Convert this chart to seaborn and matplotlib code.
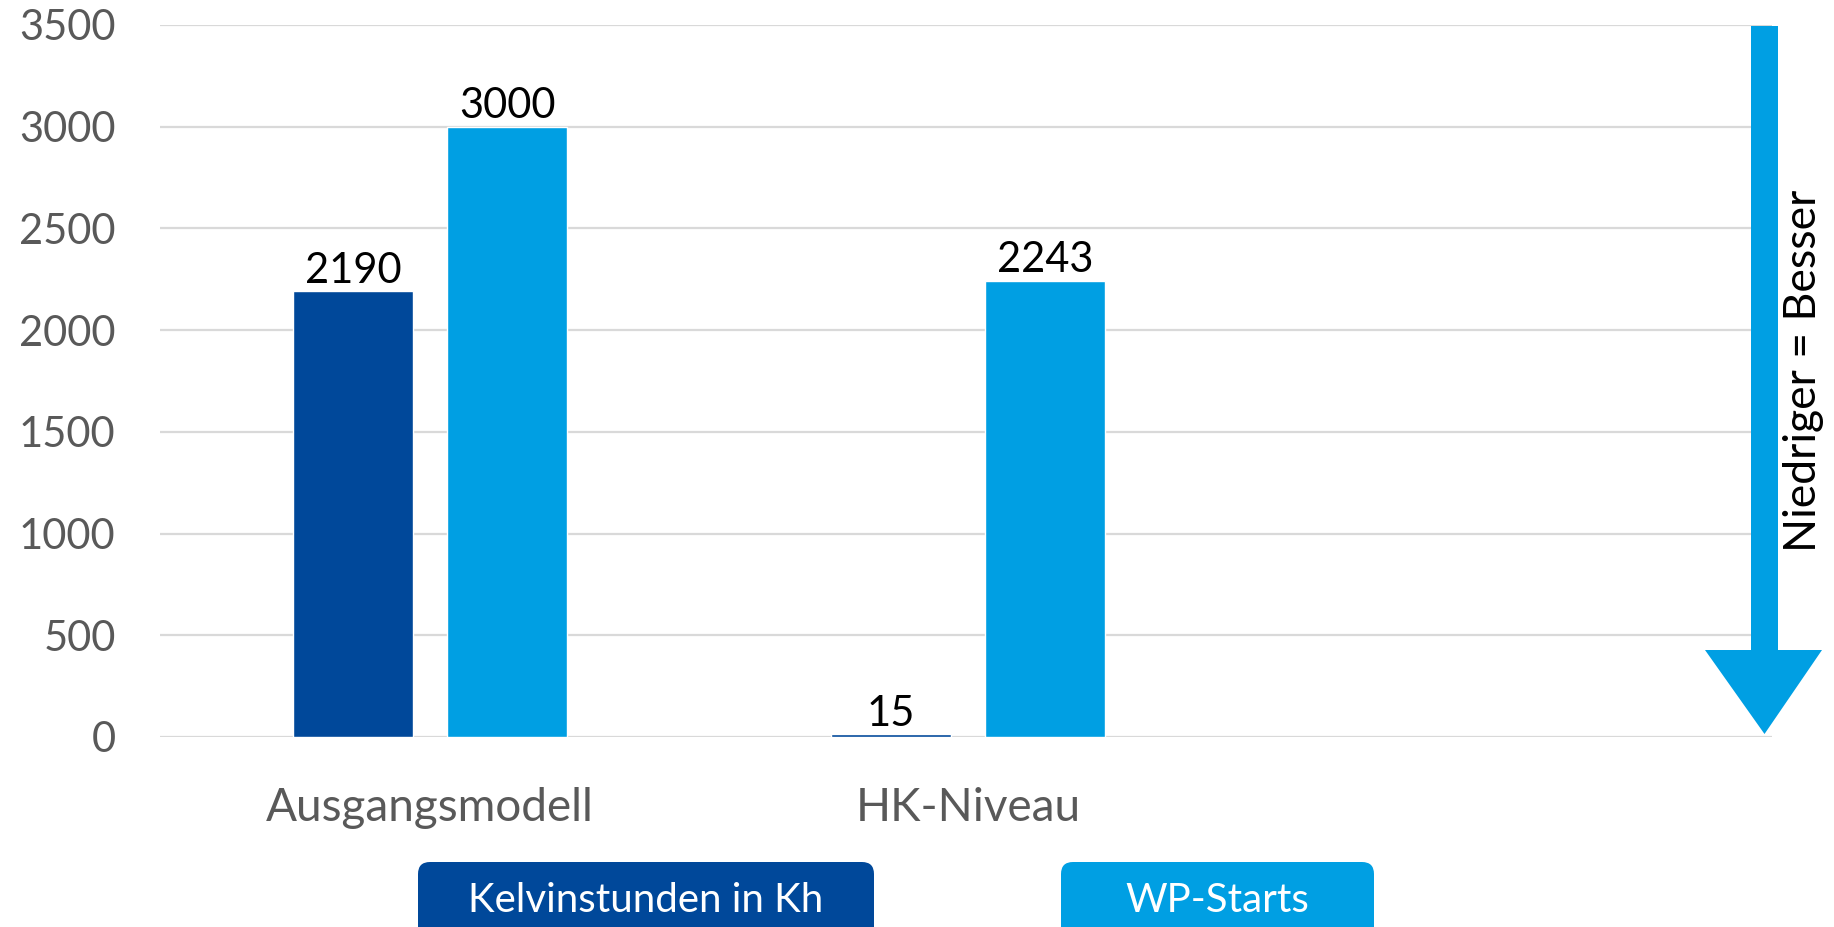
import matplotlib
matplotlib.use("Agg")
import matplotlib.pyplot as plt
import seaborn as sns
import pandas as pd
from matplotlib.patches import FancyBboxPatch, Polygon

categories = ["Ausgangsmodell", "HK-Niveau"]
series_names = ["Kelvinstunden in Kh", "WP-Starts"]
kelvinstunden = [2190, 15]
wp_starts = [3000, 2243]
y_ticks = [0, 500, 1000, 1500, 2000, 2500, 3000, 3500]
arrow_text = "Niedriger = Besser"

DARK = "#00489A"
LIGHT = "#009FE3"
GREY = "#595959"
GRID = "#D9D9D9"

df = pd.DataFrame({
    "Kategorie": categories * 2,
    "Serie": [series_names[0]] * len(categories) + [series_names[1]] * len(categories),
    "Wert": kelvinstunden + wp_starts,
})

sns.set_theme(style="white")
FONT = ["Lato", "DejaVu Sans"]
plt.rcParams["font.family"] = FONT

W, H = 1834, 927
fig = plt.figure(figsize=(W / 100, H / 100), dpi=100)
ax = fig.add_axes([160 / W, 1 - 737 / H, (1772 - 160) / W, (737 - 25) / H])

sns.barplot(data=df, x="Kategorie", y="Wert", hue="Serie",
            palette=[DARK, LIGHT], width=0.572, gap=0.22,
            saturation=1, errorbar=None, legend=False, ax=ax, zorder=3)

ax.set_xlim(-0.502, 2.494)
ax.set_ylim(0, 3500)
ax.set_yticks(y_ticks)
ax.set_yticklabels([str(t) for t in y_ticks])
ax.set_xlabel("")
ax.set_ylabel("")
for s in ax.spines.values():
    s.set_visible(False)
ax.yaxis.grid(True, color=GRID, linewidth=1.6, zorder=0)
ax.set_axisbelow(True)
ax.tick_params(axis="y", length=0, pad=32, labelsize=30, labelcolor=GREY)
ax.tick_params(axis="x", length=0, pad=36, labelsize=33, labelcolor=GREY)

for cont in ax.containers:
    ax.bar_label(cont, labels=[f"{v:.0f}" for v in cont.datavalues],
                 padding=1, fontsize=30, color="black")

# legend boxes
legend_specs = [(418, 874, DARK, series_names[0]), (1061, 1374, LIGHT, series_names[1])]
for x0, x1, col, label in legend_specs:
    box = FancyBboxPatch((x0 / W, (H - 945) / H), (x1 - x0) / W, 83 / H,
                         boxstyle=f"round,pad=0,rounding_size={12 / W}",
                         transform=fig.transFigure, facecolor=col,
                         edgecolor="none", mutation_aspect=W / H)
    fig.patches.append(box)
    fig.text((x0 + x1) / 2 / W, 1 - 901 / H, label, ha="center", va="center",
             color="white", fontsize=29, family=FONT)

# arrow
pts_px = [(1751, 26), (1778, 26), (1778, 650), (1822, 650), (1764.5, 734),
          (1705, 650), (1751, 650)]
arrow = Polygon([(x / W, 1 - y / H) for x, y in pts_px], closed=True,
                transform=fig.transFigure, facecolor=LIGHT, edgecolor="none")
fig.patches.append(arrow)
fig.text(1803 / W, 1 - 371 / H, arrow_text, rotation=90, ha="center", va="center",
         fontsize=32, color="black", family=FONT)

fig.savefig("out.png", dpi=100)
